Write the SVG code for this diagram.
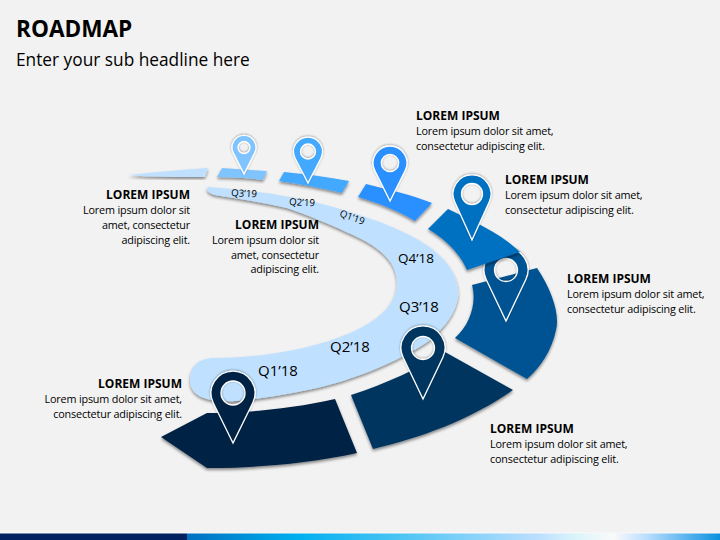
<svg xmlns="http://www.w3.org/2000/svg" width="720" height="540" viewBox="0 0 720 540">
<defs>
<style>
text{font-family:"Open Sans","Noto Sans","Liberation Sans",sans-serif;fill:#000}
.h{font-weight:700;font-size:12px}
.b{font-size:10.8px;letter-spacing:-.17px}
.e{text-anchor:end}
.q{font-size:15px}
.s{font-size:9.7px}
.seg{filter:url(#sh)}
.pin{filter:url(#gl);stroke:#fff;stroke-width:1.3;fill-rule:evenodd}
</style>
<filter id="sh" x="-20%" y="-20%" width="140%" height="150%"><feDropShadow dx="0" dy="2" stdDeviation="1.5" flood-color="#000" flood-opacity=".45"/></filter>
<filter id="gl" x="-40%" y="-30%" width="180%" height="160%"><feDropShadow dx="0" dy="-0.5" stdDeviation="1.3" flood-color="#000" flood-opacity=".4"/></filter>
<linearGradient id="bar" x1="187" x2="720" y1="0" y2="0" gradientUnits="userSpaceOnUse">
<stop offset="0" stop-color="#0070c0"/><stop offset=".21" stop-color="#00b0f0"/><stop offset=".4" stop-color="#4cc4f4"/><stop offset=".66" stop-color="#bddfff"/><stop offset=".72" stop-color="#d6f2fb"/><stop offset=".8" stop-color="#fafafa"/><stop offset=".86" stop-color="#bddfff"/><stop offset="1" stop-color="#0a90e0"/>
</linearGradient>
</defs>
<rect width="720" height="540" fill="#f2f2f2"/>
<rect y="532.5" width="720" height="1" fill="#fafafa"/>
<rect x="187" y="533.5" width="533" height="6.5" fill="url(#bar)"/>
<rect y="533.5" width="187" height="6.5" fill="#002060"/>
<text x="16" y="37" style="font-size:22.6px;font-weight:700">ROADMAP</text>
<text x="16" y="66" style="font-size:17.3px">Enter your sub headline here</text>

<g id="connectors"></g>

<g id="road">
<path class="seg" fill="#bfe1ff" d="M208 187C250 190 300 197 333 207C375 219 410 232 432 249C450 263 460 280 458 297C456 312 446 326 430 340C405 358 360 378 317 388C290 394 260 399 235 401C205 403 190 395 190 380C190 366 198 359 212 358C260 358 310 350 350 333C380 320 397 303 397 283C397 262 380 247 353 235C330 224 305 214 287 208C260 202 235 198 215 195C208 193 205 189 208 187Z"/>
</g>

<g id="node-1">
<path class="seg" fill="#002244" d="M161 437L207 413C250 413 295 408 335 399L357 453C310 463 260 468 207 468Z"/>
<path class="pin" fill="#002244" d="M233 443L213.200 402.700A22 22 0 1 1 252.800 402.700ZM233 381A12 12 0 1 0 233 405A12 12 0 1 0 233 381Z"/>
</g>
<g id="node-2">
<path class="seg" fill="#003660" d="M351 395C385 384 420 368 445 352L513 390C470 420 420 438 373 449Z"/>
<path class="pin" fill="#003660" d="M423 399L403.200 357.500A22 22 0 1 1 442.800 357.500ZM423 336.500A11.500 11.500 0 1 0 423 359.500A11.500 11.500 0 1 0 423 336.500Z"/>
</g>
<g id="node-3">
<path class="seg" fill="#005392" d="M472 285L537 268C552 290 560 315 556 330C552 350 540 368 527 379L455 338C470 325 477 303 472 285Z"/>
<path class="pin" fill="#005392" d="M506 321L486.200 279.500A22 22 0 1 1 525.800 279.500ZM506 258.500A11.500 11.500 0 1 0 506 281.500A11.500 11.500 0 1 0 506 258.500Z"/>
</g>
<g id="node-4">
<path class="seg" fill="#0070c0" d="M448 209C475 222 500 233 520 252L467 270C458 250 443 238 428 229Z"/>
<path class="pin" fill="#0070c0" d="M472 240L454.700 201.800A19 19 0 1 1 489.300 201.800ZM472 183.500A10.500 10.500 0 1 0 472 204.500A10.500 10.500 0 1 0 472 183.500Z"/>
</g>
<g id="node-5">
<path class="seg" fill="#2b90ff" d="M366 184C390 190 412 195 432 203L415 221C397 210 378 203 358 197Z"/>
<path class="pin" fill="#2b90ff" d="M390 201L374.800 170.600A17 17 0 1 1 405.200 170.600ZM390 154.300A8.700 8.700 0 1 0 390 171.700A8.700 8.700 0 1 0 390 154.300Z"/>
</g>
<g id="node-6">
<path class="seg" fill="#42a9ff" d="M284 172C305 174 328 177 349 181L342 193C322 188 300 184 279 181Z"/>
<path class="pin" fill="#42a9ff" d="M308 183L295.100 158.200A14.500 14.500 0 1 1 320.900 158.200ZM308 144A7.500 7.500 0 1 0 308 159A7.500 7.500 0 1 0 308 144Z"/>
</g>
<g id="node-7">
<path class="seg" fill="#80c4ff" d="M222 168L267 171L263 180C248 178 232 177 217 177Z"/>
<path class="pin" fill="#80c4ff" d="M244 174L233.300 152.900A12 12 0 1 1 254.700 152.900ZM244 141.500A6 6 0 1 0 244 153.500A6 6 0 1 0 244 141.500Z"/>
</g>
<g id="node-8">
<path class="seg" fill="#bfe1ff" d="M128 175C155 172 180 170 208 168L205 177C180 177 150 177 128 175Z"/>
</g>

<g id="labels">
<text class="q" x="258" y="376">Q1’18</text>
<text class="q" x="330" y="352">Q2’18</text>
<text class="q" x="399" y="312">Q3’18</text>
<text class="q" x="398" y="263" style="font-size:13.500px">Q4’18</text>
<text class="s" transform="translate(339 216) rotate(20)">Q1’19</text>
<text class="s" transform="translate(289 205) rotate(3)">Q2’19</text>
<text class="s" transform="translate(231 196) rotate(3)">Q3’19</text>
</g>

<g id="text-1"><text class="h" x="416" y="120">LOREM IPSUM</text><text class="b" x="416" y="135">Lorem ipsum dolor sit amet,</text><text class="b" x="416" y="150">consectetur adipiscing elit.</text></g>
<g id="text-2"><text class="h" x="505" y="184">LOREM IPSUM</text><text class="b" x="505" y="199">Lorem ipsum dolor sit amet,</text><text class="b" x="505" y="214">consectetur adipiscing elit.</text></g>
<g id="text-3"><text class="h" x="567" y="283">LOREM IPSUM</text><text class="b" x="567" y="298">Lorem ipsum dolor sit amet,</text><text class="b" x="567" y="313">consectetur adipiscing elit.</text></g>
<g id="text-4"><text class="h" x="490" y="433">LOREM IPSUM</text><text class="b" x="490" y="448">Lorem ipsum dolor sit amet,</text><text class="b" x="490" y="463">consectetur adipiscing elit.</text></g>
<g id="text-5"><text class="h e" x="182" y="388">LOREM IPSUM</text><text class="b e" x="182" y="403">Lorem ipsum dolor sit amet,</text><text class="b e" x="182" y="418">consectetur adipiscing elit.</text></g>
<g id="text-6"><text class="h e" x="190" y="199">LOREM IPSUM</text><text class="b e" x="190" y="214">Lorem ipsum dolor sit</text><text class="b e" x="190" y="229">amet, consectetur</text><text class="b e" x="190" y="244">adipiscing elit.</text></g>
<g id="text-7"><text class="h e" x="319" y="229">LOREM IPSUM</text><text class="b e" x="319" y="244">Lorem ipsum dolor sit</text><text class="b e" x="319" y="259">amet, consectetur</text><text class="b e" x="319" y="273">adipiscing elit.</text></g>
</svg>
